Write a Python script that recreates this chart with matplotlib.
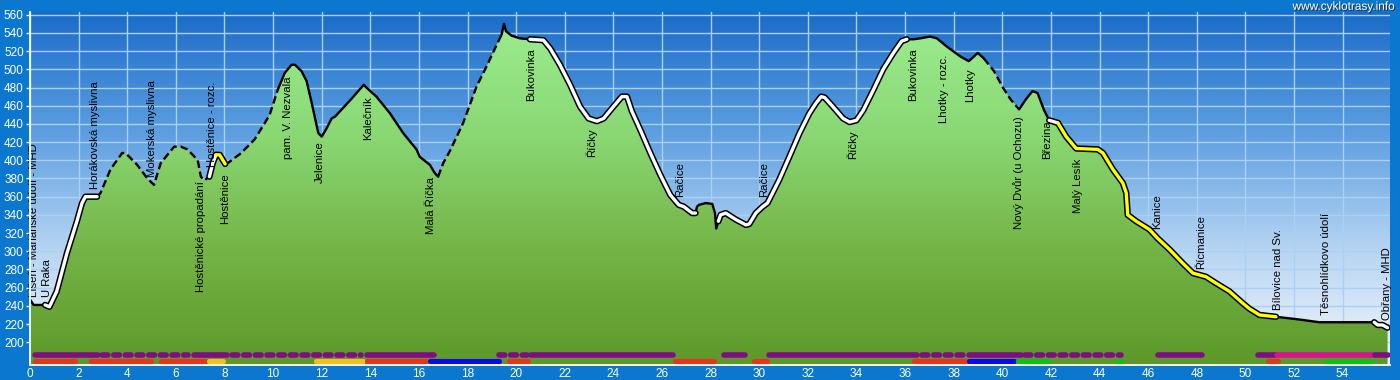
import numpy as np
import matplotlib
matplotlib.use("Agg")
import matplotlib.pyplot as plt
from matplotlib.colors import LinearSegmentedColormap
from matplotlib.patches import PathPatch
import matplotlib.patheffects as pe

# ---------------- data ----------------
km = [0.0, 0.15, 0.62, 0.8, 1.1, 1.52, 1.93, 2.14, 2.28, 2.76, 2.9, 3.31, 3.79, 3.93, 4.41, 4.83,
      5.1, 5.38, 5.93, 6.2, 6.48, 6.9, 7.03, 7.17, 7.38, 7.52, 7.65, 7.8, 8.03, 8.14, 8.69, 9.24,
      9.66, 9.86, 10.2, 10.48, 10.76, 10.9, 11.17, 11.38, 11.59, 11.86, 12.0, 12.2, 12.41, 12.55,
      13.24, 13.73, 13.84, 14.25, 14.8, 15.35, 15.9, 16.03, 16.45, 16.65, 16.79, 17.0, 17.27,
      17.82, 18.37, 18.78, 19.2, 19.4, 19.5, 19.58, 19.81, 20.16, 20.57, 21.12, 21.4, 21.8, 22.22,
      22.63, 22.98, 23.32, 23.6, 24.0, 24.35, 24.56, 24.76, 25.1, 25.52, 25.93, 26.34, 26.69,
      26.9, 27.24, 27.38, 27.44, 27.52, 27.8, 28.07, 28.18, 28.23, 28.32, 28.41, 28.62, 29.03,
      29.45, 29.59, 29.86, 30.14, 30.34, 30.83, 31.24, 31.66, 32.07, 32.34, 32.55, 32.69, 33.03,
      33.45, 33.72, 34.0, 34.28, 34.69, 35.1, 35.52, 35.86, 36.07, 36.34, 36.62, 37.03, 37.31,
      37.72, 38.28, 38.62, 38.83, 38.99, 39.24, 39.66, 40.0, 40.34, 40.69, 40.97, 41.24, 41.45,
      41.72, 41.93, 42.05, 42.29, 42.63, 43.04, 43.93, 44.14, 44.55, 44.96, 45.1, 45.16, 45.51,
      46.05, 46.4, 46.88, 47.42, 47.84, 48.38, 48.79, 49.34, 49.89, 50.16, 50.58, 51.26, 52.22,
      53.04, 54.27, 55.3, 55.44, 55.64, 55.85]
elevation = [247, 241, 241, 239, 256, 298, 333, 353, 360, 360, 364, 390, 408, 408, 395, 380,
             373, 397, 415, 415, 412, 400, 382, 378, 382, 397, 406, 406, 396, 397, 408, 423,
             441, 450, 478, 496, 505, 505, 498, 487, 463, 430, 426, 435, 446, 448,
             468, 483, 480, 470, 452, 430, 412, 404, 395, 386, 382, 397, 410,
             441, 481, 503, 527, 538, 550, 542, 537, 534, 533, 532, 523, 505, 483,
             459, 446, 443, 446, 459, 470, 470, 454, 434, 408, 384, 362, 351,
             349, 342, 342, 349, 351, 353, 352, 342, 325, 333, 340, 342, 335,
             329, 330, 342, 349, 353, 379, 404, 430, 452, 463, 470, 469, 459,
             446, 442, 444, 455, 477, 500, 518, 531, 533, 533, 534, 536, 534,
             525, 514, 509, 514, 518, 512, 498, 481, 467, 456, 467, 476, 474,
             455, 444, 443, 441, 426, 413, 412, 408, 390, 375, 364, 340, 333,
             324, 314, 302, 287, 276, 272, 265, 256, 243, 237, 230, 228, 225,
             222, 222, 222, 219, 219, 216]

# profile surface segments: (start km, end km, surface kind)
seg_start = [0.0, 0.62, 2.76, 7.38, 7.65, 8.03, 10.2, 16.79, 19.4, 20.57, 27.38, 28.32, 36.07,
             39.24, 40.69, 41.93, 42.29, 51.26, 55.3]
seg_end = [0.62, 2.76, 7.38, 7.65, 8.03, 10.2, 16.79, 19.4, 20.57, 27.38, 28.32, 36.07, 39.24,
           40.69, 41.93, 42.29, 51.26, 55.3, 55.85]
seg_kind = ["solid", "white", "dashed", "white", "yellow", "dashed", "solid", "dashed", "solid",
            "white", "solid", "white", "solid", "dashed", "solid", "white", "yellow", "solid",
            "white"]

label_names = ["Líšeň - Mariánské údolí - MHD", "U Raka", "Horákovská myslivna",
               "Mokerská myslivna", "Hostěnické propadání", "Hostěnice - rozc.", "Hostěnice",
               "pam. V. Nezvala", "Jelenice", "Kalečník", "Malá Říčka", "Bukovinka", "Říčky",
               "Račice", "Račice", "Říčky", "Bukovinka", "Lhotky - rozc.", "Lhotky",
               "Nový Dvůr (u Ochozu)", "Březina", "Malý Lesík", "Kanice", "Řícmanice",
               "Bílovice nad Sv.", "Těsnohlídkovo údolí", "Obřany - MHD"]
label_km = [0.18, 0.69, 2.69, 5.03, 7.03, 7.48, 8.04, 10.6, 11.93, 13.9, 16.5, 20.6, 23.1,
            26.73, 30.2, 33.83, 36.34, 37.62, 38.69, 40.66, 41.85, 43.1, 46.36, 48.18, 51.33,
            53.3, 55.82]
label_elev = [250, 250, 369, 382, 377, 393, 386, 492, 421, 470, 382, 523, 435, 360, 360, 433,
              523, 516, 501, 448, 444, 402, 324, 281, 236, 230, 225]
label_side = ["above", "above", "above", "above", "below", "above", "below", "below", "below",
              "below", "below", "below", "below", "above", "above", "below", "below", "below",
              "below", "below", "below", "below", "above", "above", "above", "above", "above"]

# route-type bars (upper row)
upper_start = [0.2, 2.95, 6.75, 8.3, 13.85, 19.3, 20.6, 28.55, 30.4, 36.7, 38.65, 40.95, 46.4,
               50.5, 51.3, 55.35]
upper_end = [2.8, 6.5, 8.1, 13.6, 16.6, 20.45, 26.45, 29.4, 36.5, 38.4, 40.75, 44.9, 48.2,
             51.25, 55.3, 55.85]
upper_kind = ["purple", "purple_dot", "purple", "purple_dot", "purple", "purple_dot", "purple",
              "purple", "purple", "purple_dot", "purple", "purple_dot", "purple", "purple",
              "magenta", "purple"]
# surface bars (lower row)
lower_start = [0.2, 2.5, 5.4, 7.35, 11.78, 13.87, 16.45, 19.7, 26.55, 29.8, 36.37, 38.62, 40.65,
               44.75, 50.95, 53.33]
lower_end = [1.87, 4.98, 7.2, 7.95, 13.7, 16.3, 19.3, 20.5, 28.14, 30.34, 38.5, 40.5, 41.9,
             44.9, 51.33, 55.15]
lower_kind = ["red", "red", "red", "yellow", "yellow", "red", "blue", "red", "red", "red", "red",
              "blue", "green", "green", "red", "green"]

x_ticks = list(range(0, 56, 2))
y_ticks = list(range(200, 561, 20))

# ---------------- drawing ----------------
plt.rcParams['font.family'] = ['Liberation Sans', 'DejaVu Sans']
BG = '#0b77cf'
fig = plt.figure(figsize=(14, 3.8), dpi=100, facecolor=BG)
ax = fig.add_axes([30 / 1400, 15 / 380, 1360 / 1400, 353 / 380])
XMAX, YMIN, YMAX = 55.95, 175, 563
ax.set_xlim(0, XMAX)
ax.set_ylim(YMIN, YMAX)

# sky gradient
sky = LinearSegmentedColormap.from_list('sky', ['#f4f7fb', '#b5d4f2', '#5b9de0', '#1a6cc8'])
grad = np.linspace(0, 1, 256).reshape(-1, 1)
ax.imshow(grad, extent=[0, XMAX, YMIN, YMAX], origin='lower', aspect='auto', cmap=sky,
          zorder=0, interpolation='bicubic')

# grid
for xv in x_ticks:
    ax.axvline(xv, color='#a9d0f5', lw=1.0, zorder=1)
for yv in y_ticks:
    ax.axhline(yv, color='#a9d0f5', lw=1.0, zorder=1)

# green fill gradient clipped to profile
kx = np.array(km)
ky = np.array(elevation)
poly = ax.fill_between(kx, ky, YMIN, facecolor='none', edgecolor='none', zorder=2)
green = LinearSegmentedColormap.from_list('grn', ['#5e982a', '#74b446', '#8ad874', '#9cec90'])
im = ax.imshow(grad, extent=[0, XMAX, YMIN, 555], origin='lower', aspect='auto', cmap=green,
               zorder=2, interpolation='bicubic')
clip = PathPatch(poly.get_paths()[0], transform=ax.transData, facecolor='none', edgecolor='none')
ax.add_patch(clip)
im.set_clip_path(clip)

# profile line segments
for s, e, kind in zip(seg_start, seg_end, seg_kind):
    i0 = km.index(s)
    i1 = km.index(e)
    xs = kx[i0:i1 + 1]
    ys = ky[i0:i1 + 1]
    if kind == 'solid':
        ax.plot(xs, ys, color='black', lw=1.7, zorder=5, solid_capstyle='round')
    elif kind == 'dashed':
        ax.plot(xs, ys, color='black', lw=1.7, zorder=5, dashes=(3.2, 1.6))
    else:
        inner = 'white' if kind == 'white' else '#ffff00'
        ax.plot(xs, ys, color='black', lw=4.6, zorder=5, solid_capstyle='round',
                solid_joinstyle='round')
        ax.plot(xs, ys, color=inner, lw=2.4, zorder=6, solid_capstyle='round',
                solid_joinstyle='round')

# labels
for name, xk, yk, side in zip(label_names, label_km, label_elev, label_side):
    ax.text(xk, yk, name, rotation=90, ha='center', va='bottom' if side == 'above' else 'top',
            fontsize=8.2, color='black', zorder=7)

# bars
bar_colors = {'purple': '#7d0f80', 'purple_dot': '#7d0f80', 'magenta': '#d6148c',
              'red': '#e8341f', 'yellow': '#f2c020', 'blue': '#0a0ae8', 'green': '#12c012'}
for s, e, kind in zip(upper_start, upper_end, upper_kind):
    if kind.endswith('_dot'):
        ax.plot([s, e], [186, 186], color=bar_colors[kind], lw=4.0, dashes=(1.05, 1.05),
                dash_capstyle='round', zorder=4)
    else:
        ax.plot([s, e], [186, 186], color=bar_colors[kind], lw=4.0, solid_capstyle='round',
                zorder=4)
for s, e, kind in zip(lower_start, lower_end, lower_kind):
    ax.plot([s, e], [179.5, 179.5], color=bar_colors[kind], lw=3.7, solid_capstyle='round',
            zorder=4)

# axes styling
for sp in ['top', 'right']:
    ax.spines[sp].set_visible(False)
for sp in ['left', 'bottom']:
    ax.spines[sp].set_color('white')
    ax.spines[sp].set_linewidth(1.3)
    ax.spines[sp].set_zorder(8)
ax.set_xticks(x_ticks)
ax.set_yticks(y_ticks)
ax.set_xticklabels([str(v) for v in x_ticks])
ax.set_yticklabels([str(v) for v in y_ticks])
ax.tick_params(axis='both', colors='white', labelsize=8.5, length=3, width=1, pad=1.5)
ax.tick_params(axis='x', length=0, pad=2)

fig.text(0.996, 0.982, 'www.cyklotrasy.info', ha='right', va='center', color='white',
         fontsize=8.5, path_effects=[pe.withSimplePatchShadow(offset=(0.8, -0.8),
                                                              shadow_rgbFace='#303030', alpha=1)])

fig.savefig('out.png', dpi=100, facecolor=BG)
